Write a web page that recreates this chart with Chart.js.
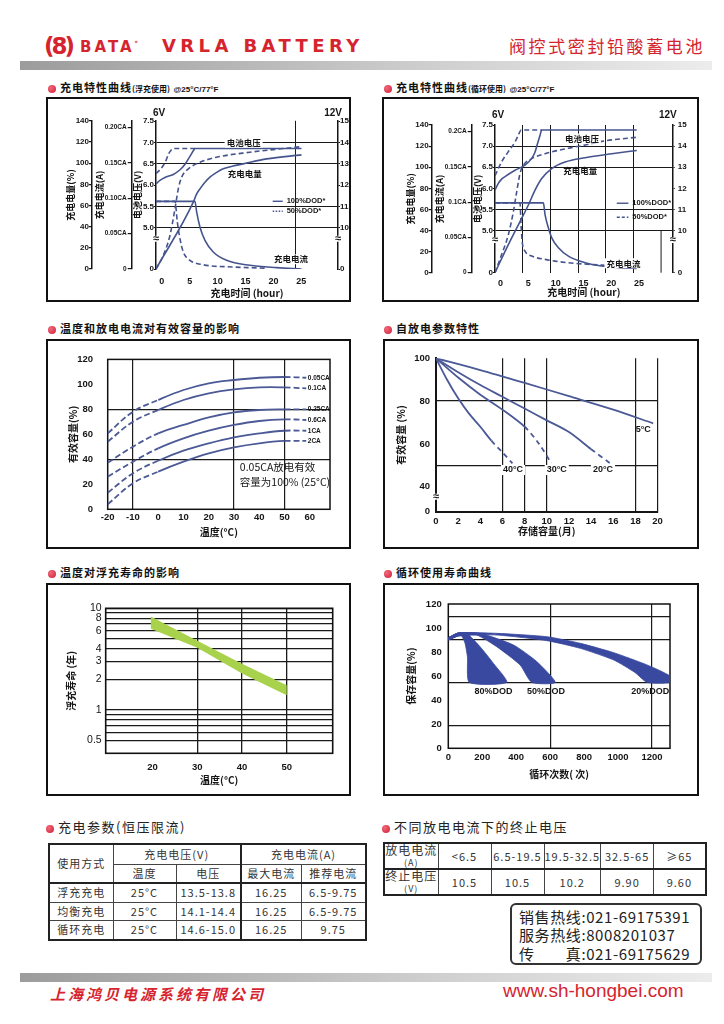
<!DOCTYPE html>
<html><head><meta charset="utf-8">
<script src="https://cdn.jsdelivr.net/npm/chart.js@4.4.1/dist/chart.umd.min.js"></script>
<style>
body{margin:0;background:#fff;}
#page{position:relative;width:724px;height:1024px;overflow:hidden;font-family:"Noto Sans CJK SC",sans-serif;background:#fff;}
.box{position:absolute;border:2px solid #111;box-sizing:border-box;}
canvas{position:absolute;}
.h{position:absolute;font-weight:700;font-size:11px;color:#111;white-space:nowrap;line-height:12px;letter-spacing:1px;}
.h small{font-size:8px;letter-spacing:0;}
.h .at{font-family:"Liberation Sans",Arial,sans-serif;font-size:8px;letter-spacing:0;}
.dot{display:inline-block;width:8px;height:8px;border-radius:50%;background:radial-gradient(circle at 35% 35%,#f06a7a,#d01a35);margin-right:4px;vertical-align:-1px;}
.h2{position:absolute;font-weight:400;font-size:13px;color:#222;white-space:nowrap;line-height:14px;letter-spacing:1.5px;}
.bar{position:absolute;left:20px;width:692px;height:9px;background:linear-gradient(to right,#9c9c9c,#cfcfcf 60%,#ececec);}
table.t{position:absolute;border-collapse:collapse;border:2px solid #222;}
table.t td{border:1px solid #444;text-align:center;font-size:11px;letter-spacing:1px;color:#333;padding:0;line-height:1;font-family:"Noto Sans CJK SC",sans-serif;white-space:nowrap;}
</style></head>
<body><div id="page">
<!-- header -->
<div style="position:absolute;left:44px;top:33px;font:900 23px 'DejaVu Sans',sans-serif;color:#d6242f;letter-spacing:-3px;">(8)</div>
<div style="position:absolute;left:80px;top:38px;font:700 15px 'DejaVu Sans',sans-serif;color:#d6242f;letter-spacing:3px;">BATA<sup style="font-size:7px;">°</sup></div>
<div style="position:absolute;left:162px;top:35px;font:700 18px 'DejaVu Sans',sans-serif;color:#d6242f;letter-spacing:4.4px;">VRLA BATTERY</div>
<div style="position:absolute;left:509px;top:33px;font:400 17px 'Noto Sans CJK SC',sans-serif;color:#d6242f;letter-spacing:2.6px;">阀控式密封铅酸蓄电池</div>
<div class="bar" style="top:61px;"></div>

<div class="h" style="left:48px;top:81px;"><span class="dot"></span>充电特性曲线<small>(浮充使用)</small> <span class="at">@25°C/77°F</span></div>
<div class="h" style="left:384px;top:81px;"><span class="dot"></span>充电特性曲线<small>(循环使用)</small> <span class="at">@25°C/77°F</span></div>
<div class="h" style="left:48px;top:322px;"><span class="dot"></span>温度和放电电流对有效容量的影响</div>
<div class="h" style="left:384px;top:322px;"><span class="dot"></span>自放电参数特性</div>
<div class="h" style="left:48px;top:566px;"><span class="dot"></span>温度对浮充寿命的影响</div>
<div class="h" style="left:384px;top:566px;"><span class="dot"></span>循环使用寿命曲线</div>

<div class="box" style="left:46px;top:97px;width:305px;height:205px;"></div>
<div class="box" style="left:382px;top:97px;width:317px;height:205px;"></div>
<div class="box" style="left:46px;top:339px;width:305px;height:210px;"></div>
<div class="box" style="left:383px;top:339px;width:316px;height:210px;"></div>
<div class="box" style="left:46px;top:583px;width:305px;height:213px;"></div>
<div class="box" style="left:383px;top:583px;width:316px;height:213px;"></div>

<canvas id="c1" width="305" height="205" style="left:46px;top:97px;"></canvas>
<canvas id="c2" width="317" height="205" style="left:382px;top:97px;"></canvas>
<canvas id="c3" width="305" height="210" style="left:46px;top:339px;"></canvas>
<canvas id="c4" width="316" height="210" style="left:383px;top:339px;"></canvas>
<canvas id="c5" width="305" height="213" style="left:46px;top:583px;"></canvas>
<canvas id="c6" width="316" height="213" style="left:383px;top:583px;"></canvas>

<!-- tables -->
<div class="h2" style="left:46px;top:820px;"><span class="dot"></span>充电参数(恒压限流)</div>
<div class="h2" style="left:382px;top:820px;"><span class="dot"></span>不同放电电流下的终止电压</div>
<table class="t" style="left:48px;top:843px;">
<colgroup><col style="width:64px"><col style="width:63px"><col style="width:65px"><col style="width:60px"><col style="width:65px"></colgroup>
<tr style="height:20px"><td rowspan="2">使用方式</td><td colspan="2">充电电压(V)</td><td colspan="2" style="border-left:2px solid #222">充电电流(A)</td></tr>
<tr style="height:19px"><td style="border-bottom:2px solid #222">温度</td><td style="border-bottom:2px solid #222">电压</td><td style="border-bottom:2px solid #222;border-left:2px solid #222">最大电流</td><td style="border-bottom:2px solid #222">推荐电流</td></tr>
<tr style="height:19px"><td style="border-top:2px solid #222">浮充充电</td><td>25°C</td><td>13.5-13.8</td><td style="border-left:2px solid #222">16.25</td><td>6.5-9.75</td></tr>
<tr style="height:18.5px"><td>均衡充电</td><td>25°C</td><td>14.1-14.4</td><td style="border-left:2px solid #222">16.25</td><td>6.5-9.75</td></tr>
<tr style="height:19px"><td>循环充电</td><td>25°C</td><td>14.6-15.0</td><td style="border-left:2px solid #222">16.25</td><td>9.75</td></tr>
</table>
<table class="t" style="left:383px;top:842px;">
<colgroup><col style="width:54px"><col style="width:53px"><col style="width:53px"><col style="width:54px"><col style="width:53px"><col style="width:52px"></colgroup>
<tr style="height:25px"><td style="font-size:12px;line-height:11px;">放电电流<br><span style="font-size:9px;">(A)</span></td><td>&lt;6.5</td><td>6.5-19.5</td><td>19.5-32.5</td><td>32.5-65</td><td>≥65</td></tr>
<tr style="height:25px"><td style="font-size:12px;line-height:11px;border-top:2px solid #222">终止电压<br><span style="font-size:9px;">(V)</span></td><td style="border-top:2px solid #222">10.5</td><td style="border-top:2px solid #222">10.5</td><td style="border-top:2px solid #222">10.2</td><td style="border-top:2px solid #222">9.90</td><td style="border-top:2px solid #222">9.60</td></tr>
</table>
<div style="position:absolute;left:510px;top:903px;width:192px;height:62px;border:2px solid #333;border-radius:6px;box-sizing:border-box;padding:3px 0 0 7px;font:400 15px 'Noto Sans CJK SC',sans-serif;color:#222;line-height:18.3px;letter-spacing:0.6px;white-space:nowrap;">
销售热线:021-69175391<br>服务热线:8008201037<br>传&emsp;&emsp;真:021-69175629</div>

<div class="bar" style="top:973px;"></div>
<div style="position:absolute;left:50px;top:983px;font:italic 700 15px 'Noto Sans CJK SC',sans-serif;color:#d6242f;letter-spacing:3px;">上海鸿贝电源系统有限公司</div>
<div style="position:absolute;left:503px;top:980px;font:400 19px 'Liberation Sans',Arial,sans-serif;color:#d6242f;">www.sh-hongbei.com</div>
</div>

<script>
// ===================== DATA =====================
// Chart 1: charging characteristics (float use), x = hours
const hourTicks = [0, 5, 10, 15, 20, 25];
const floatVolt100 = [[0,6.03],[0.7,6.11],[1.6,6.18],[3.1,6.25],[4.3,6.36],[5.2,6.49],[6.1,6.68],[6.9,6.85],[7,6.86],[26.06,6.86]];
const floatVolt50  = [[0,6.27],[0.7,6.36],[1.3,6.46],[1.8,6.58],[2.2,6.72],[2.7,6.82],[3.1,6.86],[7,6.86]];
const floatCap100  = [[0,0],[6.68,63.1],[7.2,70],[7.87,75.7],[8.7,81.5],[9.66,86.7],[10.8,91],[12.04,94.6],[13.8,97.3],[15.62,99.3],[19.8,104],[26.06,107.8]];
const floatCap50   = [[0,0],[1.31,12.9],[2.5,31.7],[3.4,56.9],[3.99,75.7],[4.59,86.7],[5.79,94.6],[7.87,100.8],[10.85,105.6],[16.82,110.3],[26.06,115.6]];
const floatCur100  = [[0,0.0955],[6.98,0.0955],[7.28,0.0805],[7.87,0.0593],[8.77,0.0405],[10.26,0.024],[12.64,0.0122],[16.82,0.0052],[21.6,0.0019],[26.06,0]];
const floatCur50   = [[0,0.0955],[3.4,0.0955],[3.82,0.0663],[4.29,0.0428],[4.89,0.024],[6.08,0.0122],[8.4,0.0061],[13.83,0.0028],[19.8,0.0012]];
// Chart 2: charging characteristics (cycle use)
const cycVolt100 = [[0,5.96],[0.6,6.12],[1.2,6.22],[1.81,6.28],[3.62,6.43],[5.42,6.55],[6.63,6.71],[7.2,6.85],[7.53,6.99],[8.14,7.26],[8.44,7.38],[25.6,7.38]];
const cycVolt50  = [[0,6.3],[1.2,6.63],[2.41,6.87],[3.62,7.10],[4.22,7.26],[4.7,7.38],[8.44,7.38]];
const cycCap100  = [[0,0],[2.41,26.6],[4.52,48.5],[6.03,64.2],[7.23,78.3],[8.44,89.3],[10.25,98.7],[12.66,104.9],[16.27,109],[21.1,112.8],[25.6,115.9]];
const cycCap50   = [[0,0],[1.2,17.2],[2.41,36],[3.32,57.9],[3.92,76.7],[4.52,94],[5.12,101.8],[6.63,108.1],[9.04,112.8],[13.26,118],[16.27,121],[19.3,124.5],[25.6,128.4]];
const cycCur100  = [[0,0.099],[8.74,0.099],[9.04,0.0825],[9.64,0.0637],[10.25,0.0495],[11.45,0.0354],[13.26,0.0236],[16.27,0.0141],[19.29,0.0094],[22.3,0.0071],[25.6,0.0061]];
const cycCur50   = [[0,0.099],[4.52,0.099],[4.7,0.0683],[4.94,0.0424],[5.42,0.0306],[6.63,0.0236],[9.04,0.0189],[13.26,0.0141],[19.29,0.0108],[25.6,0.008]];
// Chart 3: temperature vs effective capacity
const tempC = [-20,-10,0,10,20,30,40,50,58.6];
const rateLabels = ['0.05CA','0.1CA','0.25CA','0.6CA','1CA','2CA'];
const capAt005 = [60.8,78.1,87.5,95.5,100.8,103.5,105.3,105.9,105.3];
const capAt01  = [54.1,70.1,79.5,87.5,92.8,96,97.6,97.6,96.8];
const capAt025 = [37.3,50.1,60.8,67.5,73.6,77.6,79.5,80,80];
const capAt06  = [26.1,38.1,48.8,56.8,62.9,67.5,70.7,72,71.5];
const capAt1   = [13.3,28.8,38.9,46.9,52.8,57.6,60.8,62.9,62.9];
const capAt2   = [4,20.8,30.1,38.1,44.8,49.6,52.8,54.7,54.7];
// Chart 4: self discharge, x = months
const monthTicks = [0,2,4,6,8,10,12,14,16,18,20];
const sd5C  = [[0,100],[4,94.5],[8,88.5],[12,82.3],[16,76],[19.6,69.6]];
const sd20C = [[0,100],[2,93.5],[4,87.5],[6,82],[8,76.5],[10,71],[12,65.5],[14,57.5],[15.7,51]];
const sd30C = [[0,100],[2,91],[4,83],[6,76],[8,68],[9.3,60],[10.4,51]];
const sd40C = [[0,100],[1,90],[2,81.3],[3,74],[4,68],[5,61.5],[6,56],[6.9,50.9]];
// Chart 5: float life vs temperature (years)
const lifeTempTicks = [20,30,40,50];
const lifeUpper = [[19.6,8.3],[30,4.8],[40,2.85],[50,1.75]];
const lifeLower = [[19.6,6.3],[30,4.1],[40,2.28],[50,1.40]];
// Chart 6: cycle life
const cycleTicks = [0,200,400,600,800,1000,1200];
const dod80Upper = [[0,92],[60,96],[108,95.6],[187,84.5],[266,70.6],[344.5,54.8]];
const dod80Lower = [[0,90],[60,93.5],[79,93.4],[98.7,87.3],[112.5,76.2],[124,54.8]];
const dod50Upper = [[0,92],[60,96],[187,95.6],[384,85.9],[522,72],[630,54.8]];
const dod50Lower = [[0,90],[60,93.5],[167,94.2],[285,84.5],[423,69.3],[492,54.8]];
const dod20Upper = [[0,92],[60,96],[285,95.6],[581,92.8],[778,87.3],[975,79.5],[1171,69.3],[1306,60.1]];
const dod20Lower = [[0,90],[60,93.5],[285,94.2],[581,89.5],[778,83.1],[975,73.4],[1100,63],[1171,54.8],[1306,54.8]];

// ===================== STYLE =====================
const INK = '#151515';
const LINE = '#46548e';
const FS = "'Liberation Sans',Arial,sans-serif";
const CJK = "'Noto Sans CJK SC',sans-serif";
Chart.defaults.animation = false;
Chart.defaults.color = INK;
Chart.defaults.font.family = FS;
const titleFont = {family: CJK, size: 10, weight: 'bold'};
const titleSm = {family: CJK, size: 9, weight: 'bold'};
const ticks9 = {family: FS, size: 9, weight: 'bold'};
const ticks8 = {family: FS, size: 8, weight: 'bold'};
const ticks65 = {family: FS, size: 6.5, weight: 'bold'};
const ticks10 = {family: FS, size: 9.5, weight: 'bold'};
const clear = 'rgba(0,0,0,0)';
const setTicks = vals => s => { s.ticks = vals.map(v => ({value: v})); };
const gridAt = (vals, col) => c => (c.tick && vals.includes(c.tick.value)) ? (col || '#1a1a1a') : clear;

function notesPlugin(items){
  return {id:'notes', afterDatasetsDraw(chart){
    const ctx = chart.ctx, a = chart.chartArea;
    ctx.save();
    items.forEach(it => {
      const xs = chart.scales[it.xs || 'x'], ys = chart.scales[it.ys || 'y'];
      if (it.type === 'brk') {
        const s = chart.scales[it.scale], y = s.getPixelForValue(it.value);
        const x = s.position === 'left' ? s.right : s.left;
        ctx.fillStyle = '#fff'; ctx.fillRect(x - 2, y - 3, 4, 6);
        ctx.fillStyle = INK; ctx.font = 'bold 11px ' + FS; ctx.textAlign = 'center'; ctx.textBaseline = 'middle';
        ctx.fillText('≈', x, y);
        return;
      }
      if (it.type === 'seg') {
        ctx.strokeStyle = LINE; ctx.lineWidth = 1.4; ctx.setLineDash(it.dash || []);
        const y = ys.getPixelForValue(it.y);
        ctx.beginPath(); ctx.moveTo(xs.getPixelForValue(it.x1), y); ctx.lineTo(xs.getPixelForValue(it.x2), y); ctx.stroke();
        ctx.setLineDash([]);
        return;
      }
      if (it.type === 'vseg') {
        ctx.strokeStyle = '#1a1a1a'; ctx.lineWidth = 1;
        const x = xs.getPixelForValue(it.x);
        ctx.beginPath(); ctx.moveTo(x, ys.getPixelForValue(it.y1)); ctx.lineTo(x, ys.getPixelForValue(it.y2)); ctx.stroke();
        return;
      }
      const x = it.edge === 'min' ? a.left : it.edge === 'max' ? a.right : xs.getPixelForValue(it.x);
      const y = it.above != null ? a.top - it.above : ys.getPixelForValue(it.y);
      ctx.font = it.font; ctx.textAlign = it.align || 'center'; ctx.textBaseline = 'middle';
      const px = x + (it.dx || 0);
      if (it.bg) {
        const w = ctx.measureText(it.text).width, h = it.bgH || 10;
        const l = px - (ctx.textAlign === 'center' ? w / 2 : ctx.textAlign === 'right' ? w : 0);
        ctx.fillStyle = '#fff'; ctx.fillRect(l - 2, y - h / 2, w + 4, h);
      }
      ctx.fillStyle = it.color || INK; ctx.fillText(it.text, px, y);
    });
    ctx.restore();
  }};
}
function framePlugin(w){
  return {id:'frame', beforeDatasetsDraw(chart){
    const {ctx, chartArea: a} = chart;
    ctx.save(); ctx.strokeStyle = '#111'; ctx.lineWidth = w;
    ctx.strokeRect(a.left, a.top, a.right - a.left, a.bottom - a.top); ctx.restore();
  }};
}
const baseLine = {pointRadius: 0, borderColor: LINE, borderWidth: 1.6, fill: false, cubicInterpolationMode: 'monotone'};
const dashed = {borderDash: [5, 3]};

// ===================== CHARTS 1 & 2 =====================
function chargeChart(id, g, d){
  new Chart(document.getElementById(id), {
    type: 'line',
    data: {datasets: [
      {...baseLine, data: d.v100, yAxisID: 'yV'},
      {...baseLine, ...dashed, data: d.v50, yAxisID: 'yV'},
      {...baseLine, data: d.cap100, yAxisID: 'yP'},
      {...baseLine, ...dashed, data: d.cap50, yAxisID: 'yP'},
      {...baseLine, data: d.cur100, yAxisID: 'yC'},
      {...baseLine, ...dashed, data: d.cur50, yAxisID: 'yC'}
    ]},
    options: {
      responsive: false, animation: false,
      layout: {padding: {top: g.top, left: 0, right: 0, bottom: 0}},
      plugins: {legend: {display: false}, tooltip: {enabled: false}},
      scales: {
        x: {type: 'linear', min: 0, max: g.xMax, afterBuildTicks: setTicks(hourTicks),
          ticks: {autoSkip: false, maxRotation: 0, labelOffset: g.lblOff, padding: g.xPad, font: ticks9, color: INK, callback: v => String(v)},
          grid: {drawTicks: false, color: gridAt(g.xGrid), lineWidth: 1},
          border: {display: false},
          title: {display: true, text: '充电时间 (hour)', font: titleFont, color: INK, padding: {top: 0, bottom: g.xTitlePb}},
          afterFit: s => { s.height = g.xH; }},
        yP: {type: 'linear', position: 'left', weight: 2, min: 0, max: 140, afterBuildTicks: setTicks([0,20,40,60,80,100,120,140]),
          ticks: {autoSkip: false, padding: 0, font: ticks8, color: INK},
          grid: {drawOnChartArea: false, tickLength: 3, color: INK, lineWidth: 1.2},
          border: {display: true, color: INK, width: 1.5},
          title: {display: true, text: '充电电量(%)', font: titleSm, color: INK, padding: {top: g.tP, bottom: 0}},
          afterFit: s => { s.width = g.wP; }},
        yC: {type: 'linear', position: 'left', weight: 1, min: 0, max: g.cMax, afterBuildTicks: setTicks([0,0.05,0.10,0.15,0.20]),
          ticks: {autoSkip: false, padding: 1, font: ticks65, color: INK, callback: v => v === 0 ? '0' : g.cLabel(v)},
          grid: {drawOnChartArea: false, tickLength: 4, color: INK, lineWidth: 1.2},
          border: {display: true, color: INK, width: 1.5},
          title: {display: true, text: '充电电流(A)', font: titleSm, color: INK, padding: {top: g.tC, bottom: 0}},
          afterFit: s => { s.width = g.wC; }},
        yV: {type: 'linear', position: 'left', weight: 0, min: g.vMin, max: g.vMax, afterBuildTicks: setTicks([g.vMin,5,5.5,6,6.5,7,7.5]),
          ticks: {autoSkip: false, padding: 0, font: ticks8, color: INK, callback: v => v < 4.5 ? '0' : v.toFixed(1)},
          grid: {tickLength: 2, color: gridAt([5,5.5,6.5,7]), tickColor: INK, lineWidth: 1},
          border: {display: true, color: INK, width: 1.5},
          title: {display: true, text: '电池电压(V)', font: titleSm, color: INK, padding: {top: g.tV, bottom: 0}},
          afterFit: s => { s.width = g.wV; }},
        yR: {type: 'linear', position: 'right', min: g.vMin * 2, max: g.vMax * 2, afterBuildTicks: setTicks([g.vMin*2,10,11,12,13,14,15]),
          ticks: {autoSkip: false, padding: g.rPad, font: ticks8, color: INK, callback: v => v < 9 ? '0' : String(v)},
          grid: {drawOnChartArea: false, tickLength: 2, color: INK, lineWidth: 1},
          border: {display: true, color: INK, width: 1.5},
          afterFit: s => { s.width = g.wR; }}
      }
    },
    plugins: [notesPlugin(g.notes)]
  });
}
const cj = 'bold 8.5px ' + CJK, lg = 'bold 7.5px ' + FS, vv = 'bold 10px ' + FS;
chargeChart('c1', {
  top: 23.8, xMax: 32.6, lblOff: 5.8, xPad: 7, xGrid: [25], xTitlePb: 3, xH: 33,
  wP: 46, wC: 39.7, wV: 24.3, wR: 13, rPad: 0, tP: 19.6, tC: 2.6, tV: 0.9,
  cMax: 0.2092, vMin: 4.03, vMax: 7.51, cLabel: v => v.toFixed(2) + 'CA',
  notes: [
    {text: '电池电压', x: 15.7, y: 7.0, ys: 'yV', font: cj, bg: true},
    {text: '充电电量', x: 15.9, y: 6.26, ys: 'yV', font: cj},
    {text: '充电电流', x: 24.2, y: 4.26, ys: 'yV', font: cj, bg: true},
    {type: 'seg', x1: 20.9, x2: 22.7, y: 5.62, ys: 'yV'},
    {type: 'seg', x1: 20.9, x2: 22.7, y: 5.385, ys: 'yV', dash: [1.5, 1.5]},
    {text: '100%DOD*', x: 23.4, y: 5.62, ys: 'yV', font: lg, align: 'left'},
    {text: '50%DOD*', x: 23.4, y: 5.385, ys: 'yV', font: lg, align: 'left'},
    {text: '6V', edge: 'min', above: 8, font: vv, align: 'left', dx: -3},
    {text: '12V', edge: 'max', above: 8, font: vv, align: 'right', dx: 4},
    {type: 'brk', scale: 'yV', value: 4.74},
    {type: 'brk', scale: 'yR', value: 9.48}
  ]
}, {v100: floatVolt100, v50: floatVolt50, cap100: floatCap100, cap50: floatCap50, cur100: floatCur100, cur50: floatCur50});

chargeChart('c2', {
  top: 28, xMax: 32.1, lblOff: 5.5, xPad: 5.6, xGrid: [5,10,15,20,25], xTitlePb: 3.3, xH: 29.3,
  wP: 49.7, wC: 40, wV: 23.3, wR: 26.3, rPad: 3, tP: 23.6, tC: 2.9, tV: 0,
  cMax: 0.2095, vMin: 4.007, vMax: 7.5, cLabel: v => (Math.round(v * 100) / 100) + 'CA',
  notes: [
    {text: '电池电压', x: 15.7, y: 7.18, ys: 'yV', font: cj, bg: true},
    {text: '充电电量', x: 15.4, y: 6.42, ys: 'yV', font: cj},
    {text: '充电电流', x: 23.2, y: 4.23, ys: 'yV', font: cj, bg: true},
    {type: 'seg', x1: 22, x2: 24.1, y: 5.65, ys: 'yV'},
    {type: 'seg', x1: 22, x2: 24.1, y: 5.32, ys: 'yV', dash: [3, 2]},
    {text: '100%DOD*', x: 24.8, y: 5.65, ys: 'yV', font: lg, align: 'left'},
    {text: '50%DOD*', x: 24.8, y: 5.32, ys: 'yV', font: lg, align: 'left'},
    {text: '6V', edge: 'min', above: 10, font: vv, align: 'left', dx: -3},
    {text: '12V', edge: 'max', above: 10, font: vv, align: 'right', dx: 4},
    {type: 'vseg', x: 30, y1: 4.007, y2: 5.0, ys: 'yV'},
    {type: 'brk', scale: 'yV', value: 4.78},
    {type: 'brk', scale: 'yR', value: 9.56}
  ]
}, {v100: cycVolt100, v50: cycVolt50, cap100: cycCap100, cap50: cycCap50, cur100: cycCur100, cur50: cycCur50});

// ===================== CHART 3 =====================
(function(){
  const series = [capAt005, capAt01, capAt025, capAt06, capAt1, capAt2];
  const lw = 'bold 6.5px ' + FS;
  new Chart(document.getElementById('c3'), {
    type: 'line',
    data: {datasets: series.map(s => ({
      ...baseLine, borderColor: '#4b5996', borderWidth: 1.8, cubicInterpolationMode: 'default', tension: 0.4,
      data: tempC.map((t, i) => [t, s[i]]),
      segment: {borderDash: c => (c.p0.parsed.x < -9 || c.p0.parsed.x >= 49) ? [6, 3] : undefined}
    }))},
    options: {
      responsive: false, animation: false,
      layout: {padding: {top: 20.3, left: 0, right: 21, bottom: 0}},
      plugins: {legend: {display: false}, tooltip: {enabled: false}},
      scales: {
        x: {type: 'linear', min: -20, max: 68, afterBuildTicks: setTicks([-20,-10,0,10,20,30,40,50,60]),
          ticks: {autoSkip: false, maxRotation: 0, padding: 2.5, font: ticks10, color: INK},
          grid: {drawTicks: false, color: gridAt([-10,30,50]), lineWidth: 1.2},
          border: {display: false},
          title: {display: true, text: '温度(°C)', font: titleFont, color: INK, padding: {top: 0, bottom: 10.7}},
          afterFit: s => { s.height = 39.7; }},
        y: {type: 'linear', min: 0, max: 120, afterBuildTicks: setTicks([0,20,40,60,80,100,120]),
          ticks: {autoSkip: false, padding: 14.7, font: ticks10, color: INK},
          grid: {drawTicks: false, color: gridAt([40,80]), lineWidth: 1.2},
          border: {display: false},
          title: {display: true, text: '有效容量(%)', font: titleFont, color: INK, padding: {top: 21, bottom: 0}},
          afterFit: s => { s.width = 61.7; }}
      }
    },
    plugins: [framePlugin(1.5), notesPlugin([
      ...rateLabels.map((t, i) => ({text: t, x: 59.2, y: series[i][series[i].length - 1], font: lw, align: 'left'})),
      {text: '0.05CA放电有效', x: 32.3, y: 33.8, font: '10.5px ' + CJK, align: 'left'},
      {text: '容量为100% (25°C)', x: 32.3, y: 21.8, font: '10.5px ' + CJK, align: 'left'}
    ])]
  });
})();

// ===================== CHART 4 =====================
(function(){
  const sets = [[sd5C, 99], [sd20C, 12.6], [sd30C, 8], [sd40C, 5]];
  const lf = 'bold 9px ' + FS;
  new Chart(document.getElementById('c4'), {
    type: 'line',
    data: {datasets: sets.map(([d, th]) => ({
      ...baseLine, borderColor: '#4b5996', borderWidth: 1.8, cubicInterpolationMode: 'default', tension: 0.3, data: d,
      segment: {borderDash: c => c.p0.parsed.x >= th ? [5, 4] : undefined}
    }))},
    options: {
      responsive: false, animation: false,
      layout: {padding: {top: 19.3, left: 0, right: 41.4, bottom: 0}},
      plugins: {legend: {display: false}, tooltip: {enabled: false}},
      scales: {
        x: {type: 'linear', min: 0, max: 20, afterBuildTicks: setTicks(monthTicks),
          ticks: {autoSkip: false, maxRotation: 0, padding: 3.5, font: ticks10, color: INK},
          grid: {drawTicks: false, color: gridAt([6,8,10,18,20]), lineWidth: 1.2},
          border: {display: true, color: INK, width: 2},
          title: {display: true, text: '存储容量(月)', font: titleFont, color: INK, padding: {top: 0, bottom: 12}},
          afterFit: s => { s.height = 37.3; }},
        y: {type: 'linear', min: 28.3, max: 100, afterBuildTicks: setTicks([28.3,40,50,60,80,100]),
          ticks: {autoSkip: false, padding: 6, font: ticks10, color: INK, callback: v => v < 30 ? '0' : v === 50 ? '' : String(v)},
          grid: {drawTicks: false, color: gridAt([50,80]), lineWidth: 1.2},
          border: {display: true, color: INK, width: 2},
          title: {display: true, text: '有效容量 (%)', font: titleFont, color: INK, padding: {top: 12.7, bottom: 0}},
          afterFit: s => { s.width = 53; }}
      }
    },
    plugins: [notesPlugin([
      {text: '40°C', x: 6.95, y: 47.8, font: lf, bg: true},
      {text: '30°C', x: 10.9, y: 47.8, font: lf, bg: true},
      {text: '20°C', x: 15.07, y: 47.8, font: lf, bg: true},
      {text: '5°C', x: 18.7, y: 66.5, font: lf},
      {type: 'brk', scale: 'y', value: 35.3}
    ])]
  });
})();

// ===================== CHART 5 =====================
(function(){
  const poly = lifeUpper.concat(lifeLower.slice().reverse());
  new Chart(document.getElementById('c5'), {
    type: 'line',
    data: {datasets: [{data: poly, pointRadius: 0, borderWidth: 0, borderColor: '#a9d24c', backgroundColor: '#a9d24c', fill: 'shape', tension: 0}]},
    options: {
      responsive: false, animation: false,
      layout: {padding: {top: 25.3, left: 0, right: 18.3, bottom: 0}},
      plugins: {legend: {display: false}, tooltip: {enabled: false}},
      scales: {
        x: {type: 'linear', min: 9.5, max: 60.3, afterBuildTicks: setTicks(lifeTempTicks),
          ticks: {autoSkip: false, maxRotation: 0, padding: 8, font: ticks10, color: INK},
          grid: {drawTicks: false, color: gridAt([30,40,50]), lineWidth: 1.3},
          border: {display: false},
          title: {display: true, text: '温度(°C)', font: titleFont, color: INK, padding: {top: 0, bottom: 9.3}},
          afterFit: s => { s.height = 42.7; }},
        y: {type: 'logarithmic', min: 0.375, max: 10, afterBuildTicks: setTicks([10,9,8,7,6,5,4,3,2,1,0.9,0.8,0.7,0.6,0.5]),
          ticks: {autoSkip: false, padding: 4, font: {family: FS, size: 10.5}, color: INK, callback: v => [10,8,6,4,3,2,1,0.5].includes(v) ? String(v) : ''},
          grid: {drawTicks: false, color: '#1a1a1a', lineWidth: 1.2},
          border: {display: false},
          title: {display: true, text: '浮充寿命 (年)', font: titleFont, color: INK, padding: {top: 19.7, bottom: 0}},
          afterFit: s => { s.width = 59.7; }}
      }
    },
    plugins: [framePlugin(1.6)]
  });
})();

// ===================== CHART 6 =====================
(function(){
  const bands = [[dod80Upper, dod80Lower], [dod50Upper, dod50Lower], [dod20Upper, dod20Lower]];
  const lf = 'bold 9px ' + FS;
  new Chart(document.getElementById('c6'), {
    type: 'line',
    data: {datasets: bands.map(([u, l]) => ({
      data: u.concat(l.slice().reverse()), pointRadius: 0, borderWidth: 0.8, borderColor: '#3a49a0', backgroundColor: '#3a49a0', fill: 'shape', tension: 0.2
    }))},
    options: {
      responsive: false, animation: false,
      layout: {padding: {top: 21, left: 0, right: 29, bottom: 0}},
      plugins: {legend: {display: false}, tooltip: {enabled: false}},
      scales: {
        x: {type: 'linear', min: 0, max: 1306, afterBuildTicks: setTicks(cycleTicks),
          ticks: {autoSkip: false, maxRotation: 0, padding: 3, font: ticks10, color: INK, callback: v => String(v)},
          grid: {drawTicks: false, color: gridAt([600,1200]), lineWidth: 1.2},
          border: {display: false},
          title: {display: true, text: '循环次数( 次)', font: titleFont, color: INK, padding: {top: 0, bottom: 16}},
          afterFit: s => { s.height = 47.7; }},
        y: {type: 'linear', min: 0, max: 120, afterBuildTicks: setTicks([0,18.6,20,40,55,60,80,90.8,100,109.7,120]),
          ticks: {autoSkip: false, padding: 6.6, font: ticks10, color: INK, callback: v => v % 20 === 0 ? String(v) : ''},
          grid: {drawTicks: false, color: gridAt([18.6,55,90.8,109.7]), lineWidth: 1.2},
          border: {display: false},
          title: {display: true, text: '保存容量(%)', font: titleFont, color: INK, padding: {top: 22.7, bottom: 0}},
          afterFit: s => { s.width = 65.3; }}
      }
    },
    plugins: [framePlugin(1.5), notesPlugin([
      {text: '80%DOD', x: 266, y: 47.2, font: lf},
      {text: '50%DOD', x: 575, y: 47.2, font: lf},
      {text: '20%DOD', x: 1190, y: 47.2, font: lf}
    ])]
  });
})();
</script>
</body></html>
